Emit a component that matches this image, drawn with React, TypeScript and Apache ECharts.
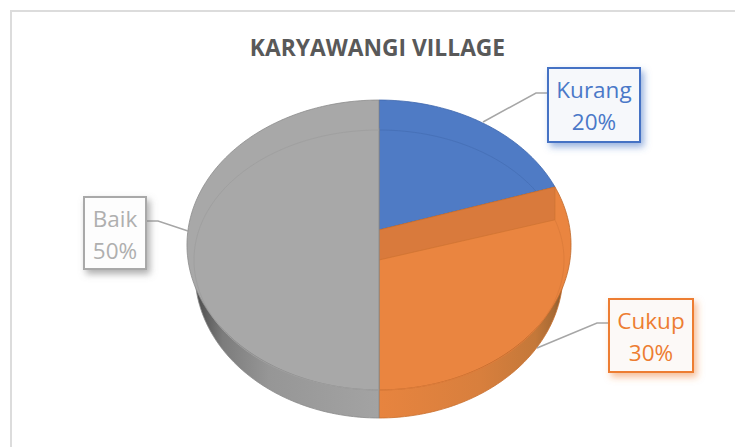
import React, { useEffect, useRef } from "react";
import * as echarts from "echarts";

const categories = ["Kurang", "Cukup", "Baik"];
const percentValues = [20, 30, 50];
const chartTitle = "KARYAWANGI VILLAGE";

const W = 735, H = 447;
const FONT = '"Open Sans", sans-serif';
const CX = 379;
const TOP = { cy: 230, A: 191, B: 143.4, k: 0.1034 };
const INNER = { cy: 260, A: 185, B: 130, k: 0 };
const BASE = { cy: 273, A: 184, B: 145, k: 0 };

const STYLES = [
  {
    top: "#4f7bc5", edge: "#3f67ad", inner: "#4771b8", text: "#4a78c8", border: "#4472c4", fill: "#f6f8fb", shadow: "rgba(68,114,196,0.55)",
    box: [548, 68, 92, 74], leader: [[483, 122], [536, 93], [548, 93]],
  },
  {
    top: "#ea8540", edge: "#bf6a2c", inner: "#de7d3b", text: "#ed7d31", border: "#ed7d31", fill: "#fcf9f7", shadow: "rgba(237,125,49,0.5)",
    box: [609, 299, 84, 73], leader: [[537, 348], [597, 323], [609, 323]],
  },
  {
    top: "#a8a8a8", edge: "#8c8c8c", inner: "#a0a0a0", text: "#afafaf", border: "#a9a9a9", fill: "#fdfdfd", shadow: "rgba(120,120,120,0.6)",
    box: [84, 197, 62, 72], leader: [[188, 231], [158, 221], [147, 221]],
  },
];

type Disc = { cy: number; A: number; B: number; k: number };
const pt = (d: Disc, deg: number): number[] => {
  const t = (deg * Math.PI) / 180;
  const w = 1 + d.k * Math.cos(t);
  return [CX + (d.A * Math.sin(t)) / w, d.cy - (d.B * Math.cos(t)) / w];
};
const arc = (d: Disc, a0: number, a1: number): number[][] => {
  const n = Math.max(2, Math.ceil(Math.abs(a1 - a0)));
  const out: number[][] = [];
  for (let i = 0; i <= n; i++) out.push(pt(d, a0 + ((a1 - a0) * i) / n));
  return out;
};

const wallFill = (i: number) => {
  if (i === 1) {
    return new echarts.graphic.LinearGradient(0, 0, 1, 0, [
      { offset: 0, color: "#e7843f" },
      { offset: 0.55, color: "#d87f3d" },
      { offset: 0.85, color: "#c47839" },
      { offset: 0.95, color: "#a86a34" },
      { offset: 1, color: "#7f5830" },
    ]);
  }
  return new echarts.graphic.LinearGradient(0, 0, 1, 0, [
    { offset: 0, color: "#4a4a4a" },
    { offset: 0.15, color: "#7c7c7c" },
    { offset: 0.4, color: "#969696" },
    { offset: 1, color: "#a3a3a3" },
  ]);
};

const renderItem = (params: any, api: any) => {
  const i = params.dataIndex;
  const value = api.value(0);
  const total = percentValues.reduce((a, b) => a + b, 0);
  const before = percentValues.slice(0, i).reduce((a, b) => a + b, 0);
  const a0 = (before / total) * 360;
  const a1 = ((before + value) / total) * 360;
  const s = STYLES[i];
  const children: any[] = [];

  if (i > 0) {
    children.push({
      type: "polygon",
      shape: { points: [[CX, BASE.cy], ...arc(BASE, a0, a1)] },
      style: { fill: wallFill(i), stroke: i === 1 ? "#c9702f" : "#8a8a8a", lineWidth: 0.8 },
    });
  }
  children.push({
    type: "polygon",
    shape: { points: [[CX, TOP.cy], ...arc(TOP, a0, a1)] },
    style: { fill: s.top, stroke: s.edge, lineWidth: 0.8 },
  });
  if (i === 1) {
    children.push({
      type: "polygon",
      shape: { points: [[CX, TOP.cy], pt(TOP, a0), pt(INNER, a0), [CX, INNER.cy]] },
      style: { fill: "#d97a3c", stroke: "#c9702f", lineWidth: 0.6 },
    });
  }
  children.push({
    type: "polyline",
    shape: { points: arc(INNER, a0, a1) },
    style: { fill: "none", stroke: s.inner, lineWidth: 1 },
  });
  const [bx, by, bw, bh] = s.box;
  children.push({
    type: "polyline",
    shape: { points: s.leader },
    style: { fill: "none", stroke: "#a6a6a6", lineWidth: 1.5 },
  });
  children.push({
    type: "rect",
    shape: { x: bx, y: by, width: bw, height: bh },
    style: {
      fill: s.fill, stroke: s.border, lineWidth: 2,
      shadowBlur: 7, shadowOffsetX: 3, shadowOffsetY: 4, shadowColor: s.shadow,
    },
  });
  [categories[i], `${value}%`].forEach((text, line) => {
    children.push({
      type: "text",
      style: {
        text, x: bx + bw / 2, y: by + 21 + line * 32,
        fill: s.text, font: `22.5px ${FONT}`, textAlign: "center", textVerticalAlign: "middle",
      },
    });
  });
  return { type: "group", children };
};

export default function App() {
  const ref = useRef<HTMLDivElement>(null);
  useEffect(() => {
    document.body.style.margin = "0";
    const chart = echarts.init(ref.current!, null, { renderer: "svg" });
    chart.setOption({
      animation: false,
      backgroundColor: "#ffffff",
      title: {
        text: chartTitle, left: 372.5, top: 31, textAlign: "center",
        textStyle: { fontFamily: FONT, fontWeight: "bold", fontSize: 22.8, color: "#595959" },
      },
      graphic: [
        { type: "polyline", shape: { points: [[11, H], [11, 11], [W, 11]] }, style: { fill: "none", stroke: "#dcdcdc", lineWidth: 2 } },
      ],
      series: [
        {
          type: "custom",
          coordinateSystem: "none",
          renderItem,
          data: categories.map((name, i) => ({ name, value: [percentValues[i]] })),
        },
      ],
    });
    return () => chart.dispose();
  }, []);
  return <div ref={ref} style={{ width: W, height: H }} />;
}
